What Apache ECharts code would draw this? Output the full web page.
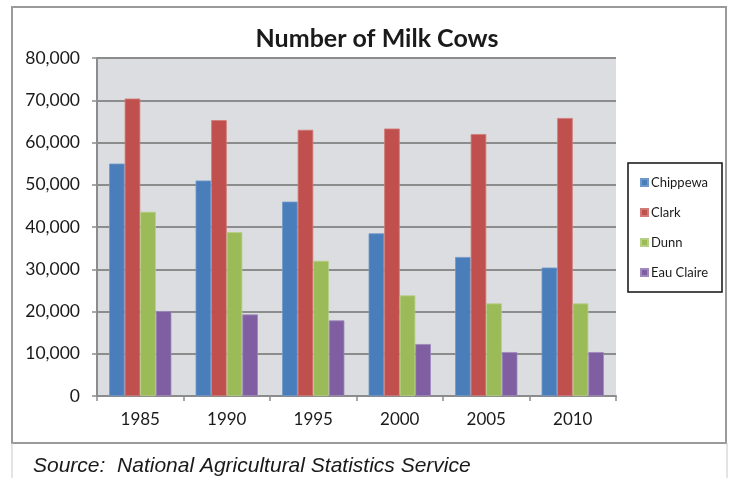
<!DOCTYPE html>
<html>
<head>
<meta charset="utf-8">
<script src="https://cdn.jsdelivr.net/npm/echarts@6/dist/echarts.min.js"></script>
<style>
  html, body { margin: 0; padding: 0; background: #fff; }
  #chart { width: 735px; height: 478px; }
</style>
</head>
<body>
<div id="chart"></div>
<script>
// Milk cow counts by county, selected years
const years = ['1985', '1990', '1995', '2000', '2005', '2010'];
const chippewa = [55000, 51000, 46000, 38500, 32900, 30400];
const clark = [70400, 65300, 63000, 63300, 62000, 65800];
const dunn = [43600, 38800, 32000, 23800, 21900, 21900];
const eauClaire = [20100, 19300, 17900, 12300, 10400, 10400];
const yTicks = [0, 10000, 20000, 30000, 40000, 50000, 60000, 70000, 80000];

const seriesDefs = [
  { name: 'Chippewa', data: chippewa, color: '#4a7ebb', edge: '#6f98cc' },
  { name: 'Clark', data: clark, color: '#c0504d', edge: '#d27a77' },
  { name: 'Dunn', data: dunn, color: '#9bbb59', edge: '#b6cf84' },
  { name: 'Eau Claire', data: eauClaire, color: '#7f5fa1', edge: '#a089bb' }
];

const font = 'Lato, "Open Sans", sans-serif';
const chart = echarts.init(document.getElementById('chart'), null, { renderer: 'canvas' });

chart.setOption({
  animation: false,
  backgroundColor: '#ffffff',
  title: {
    text: 'Number of Milk Cows',
    left: 372, top: 21, textAlign: 'center',
    textStyle: { fontFamily: font, fontWeight: 'bold', fontSize: 25, color: '#1a1a1a' }
  },
  grid: { left: 97, right: 119, top: 58, bottom: 82, show: true,
          backgroundColor: '#dcdde0', borderWidth: 0 },
  legend: {
    orient: 'vertical', left: 635, top: 171,
    itemWidth: 7, itemHeight: 7, itemGap: 17, icon: 'rect',
    textStyle: { fontFamily: font, fontSize: 13, color: '#1a1a1a', padding: [0, 0, 0, -2] },
    data: seriesDefs.map(s => s.name)
  },
  xAxis: {
    type: 'category', data: years,
    axisLine: { show: true, lineStyle: { color: '#8c8c8c', width: 2 } },
    axisTick: { show: true, length: 5, lineStyle: { color: '#8c8c8c', width: 1.5 } },
    axisLabel: { fontFamily: font, fontSize: 17, color: '#1a1a1a', margin: 15 }
  },
  yAxis: {
    type: 'value', min: 0, max: 80000, interval: 10000,
    axisLine: { show: true, lineStyle: { color: '#8c8c8c', width: 2 } },
    axisTick: { show: true, length: 5, lineStyle: { color: '#8c8c8c', width: 1.5 } },
    axisLabel: {
      fontFamily: font, fontSize: 17.5, color: '#1a1a1a', margin: 17,
      customValues: yTicks,
      formatter: v => v.toLocaleString('en-US')
    },
    splitLine: { show: true, lineStyle: { color: '#8c8c8c', width: 2 } }
  },
  series: seriesDefs.map((s, i) => ({
    name: s.name, type: 'bar', data: s.data,
    barGap: '0%', barCategoryGap: '28%',
    itemStyle: { color: s.color, borderColor: s.edge, borderWidth: 0.8 },
    z: 3
  })),
  graphic: [
    // outer chart frame
    { type: 'rect', shape: { x: 12, y: 7, width: 714, height: 436 }, z: -1,
      style: { fill: 'none', stroke: '#9a9a9a', lineWidth: 2 } },
    // source strip sides
    { type: 'line', shape: { x1: 12, y1: 443, x2: 12, y2: 478 },
      style: { stroke: '#c8c8c8', lineWidth: 1 } },
    { type: 'line', shape: { x1: 727, y1: 443, x2: 727, y2: 478 },
      style: { stroke: '#c8c8c8', lineWidth: 1 } },
    // legend box
    { type: 'rect', shape: { x: 628, y: 163, width: 94, height: 129 },
      style: { fill: 'none', stroke: '#111', lineWidth: 1.5 } },
    { type: 'text', left: 33, top: 456,
      style: { text: 'Source:  National Agricultural Statistics Service',
               fontFamily: '"Liberation Sans", Arial, sans-serif', fontStyle: 'italic',
               fontSize: 21, fill: '#1a1a1a' } }
  ]
});
</script>
</body>
</html>
